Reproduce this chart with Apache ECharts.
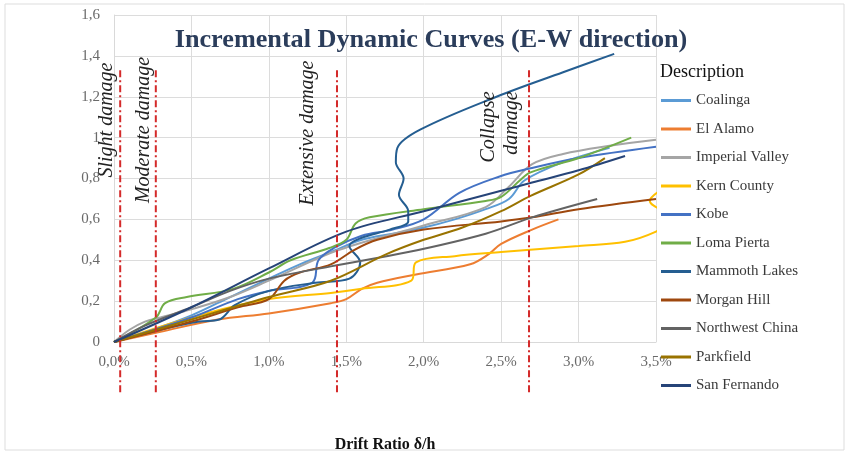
<!DOCTYPE html>
<html>
<head>
<meta charset="utf-8">
<script src="https://cdn.jsdelivr.net/npm/echarts@6/dist/echarts.min.js"></script>
<style>
html,body{margin:0;padding:0;background:#fff;}
#main{width:847px;height:466px;}
</style>
</head>
<body>
<div id="main"></div>
<script>
// Drift ratio (%) vs intensity, one array of [x, y] pairs per record
const seriesNames = ['Coalinga','El Alamo','Imperial Valley','Kern County','Kobe','Loma Pierta','Mammoth Lakes','Morgan Hill','Northwest China','Parkfield','San Fernando'];
const seriesColors = ['#5B9BD5','#ED7D31','#A5A5A5','#FFC000','#4472C4','#70AD47','#255E91','#9E480E','#636363','#997300','#264478'];

const coalinga = [[0,0],[0.25,0.06],[0.5,0.13],[0.75,0.22],[1.0,0.31],[1.2,0.38],[1.4,0.44],[1.6,0.50],[1.8,0.53],[2.0,0.56],[2.2,0.60],[2.4,0.65],[2.55,0.70],[2.65,0.79],[2.9,0.88],[3.2,0.95]];
const elAlamo = [[0,0],[0.3,0.05],[0.67,0.11],[1.0,0.14],[1.4,0.19],[1.5,0.21],[1.6,0.26],[1.7,0.29],[1.95,0.33],[2.3,0.38],[2.42,0.43],[2.5,0.48],[2.7,0.55],[2.87,0.60]];
const imperialValley = [[0,0],[0.1,0.06],[0.2,0.10],[0.3,0.12],[0.5,0.16],[0.75,0.22],[1.0,0.30],[1.45,0.45],[2.0,0.57],[2.4,0.66],[2.55,0.76],[2.7,0.87],[2.9,0.92],[3.2,0.96],[3.5,0.99]];
const kernCounty = [[0,0],[0.5,0.12],[1.0,0.21],[1.4,0.24],[1.6,0.26],[1.92,0.30],[1.95,0.39],[2.2,0.42],[2.5,0.44],[3.0,0.47],[3.3,0.49],[3.5,0.54],[3.62,0.60],[3.46,0.69],[3.62,0.78]];
const kobe = [[0,0],[0.5,0.12],[0.8,0.21],[1.0,0.25],[1.28,0.29],[1.32,0.40],[1.42,0.46],[1.6,0.52],[1.8,0.55],[2.0,0.60],[2.23,0.73],[2.49,0.81],[2.69,0.85],[3.0,0.90],[3.5,0.955]];
const lomaPierta = [[0,0],[0.27,0.12],[0.33,0.19],[0.47,0.22],[0.77,0.26],[1.0,0.34],[1.14,0.40],[1.39,0.46],[1.5,0.50],[1.56,0.58],[1.65,0.61],[2.0,0.65],[2.4,0.69],[2.5,0.71],[2.62,0.79],[2.69,0.83],[3.0,0.90],[3.34,1.0]];
const mammothLakes = [[0,0],[0.3,0.06],[0.55,0.10],[0.68,0.11],[0.78,0.18],[1.0,0.25],[1.3,0.29],[1.52,0.31],[1.59,0.39],[1.52,0.47],[1.6,0.51],[1.78,0.55],[1.9,0.59],[1.9,0.64],[1.84,0.72],[1.87,0.80],[1.82,0.88],[1.83,0.95],[1.98,1.04],[2.47,1.20],[2.9,1.32],[3.23,1.41]];
const morganHill = [[0,0],[0.5,0.10],[0.8,0.17],[1.0,0.21],[1.1,0.30],[1.2,0.34],[1.4,0.38],[1.55,0.45],[1.7,0.50],[2.0,0.55],[2.5,0.59],[2.7,0.61],[3.0,0.65],[3.5,0.70]];
const northwestChina = [[0,0],[0.2,0.08],[0.5,0.17],[0.75,0.25],[1.0,0.31],[1.4,0.37],[1.9,0.44],[2.4,0.53],[2.7,0.61],[3.12,0.70]];
const parkfield = [[0,0],[0.5,0.11],[1.0,0.22],[1.4,0.30],[1.76,0.43],[2.0,0.50],[2.25,0.56],[2.5,0.64],[2.69,0.715],[3.0,0.82],[3.17,0.90]];
const sanFernando = [[0,0],[0.5,0.17],[1.0,0.36],[1.5,0.54],[2.0,0.64],[2.5,0.74],[2.7,0.78],[3.0,0.84],[3.3,0.91]];

const seriesData = [coalinga, elAlamo, imperialValley, kernCounty, kobe, lomaPierta, mammothLakes, morganHill, northwestChina, parkfield, sanFernando];

// Damage-state limits (drift %, line top / bottom in axis units)
const damageX = [0.04, 0.27, 1.44, 2.68];
const damageTop = 1.33;
const damageBottom = -0.26;

const serif = "'Liberation Serif', 'Times New Roman', serif";

const chart = echarts.init(document.getElementById('main'), null, {renderer: 'canvas'});

const lineSeries = seriesNames.map((n, i) => ({
  name: n,
  type: 'line',
  data: seriesData[i],
  smooth: 0.35,
  showSymbol: false,
  symbol: 'none',
  lineStyle: {width: 2, color: seriesColors[i]},
  itemStyle: {color: seriesColors[i]},
  z: 3 + i,
  animation: false
}));

const damageSeries = {
  type: 'custom',
  name: 'damage',
  data: damageX.map(x => [x, damageTop, damageBottom]),
  encode: {x: 0, y: [1, 2]},
  clip: false,
  silent: true,
  z: 20,
  renderItem: function (params, api) {
    const p1 = api.coord([api.value(0), api.value(1)]);
    const p2 = api.coord([api.value(0), api.value(2)]);
    return {
      type: 'line',
      shape: {x1: p1[0], y1: p1[1], x2: p2[0], y2: p2[1]},
      style: {stroke: '#d42a2a', lineWidth: 2, lineDash: [7, 3, 2, 3]}
    };
  },
  animation: false
};

const option = {
  backgroundColor: '#ffffff',
  animation: false,
  title: {
    text: 'Incremental Dynamic Curves (E-W direction)',
    left: 426,
    top: 22,
    textAlign: 'center',
    textStyle: {fontFamily: serif, fontWeight: 'bold', fontSize: 26.2, color: '#2b3d5b'}
  },
  grid: {left: 114, right: 191, top: 15, bottom: 124, containLabel: false},
  xAxis: {
    type: 'value',
    min: 0, max: 3.5, interval: 0.5,
    name: 'Drift Ratio δ/h',
    nameLocation: 'middle',
    nameGap: 95,
    nameTextStyle: {fontFamily: serif, fontWeight: 'bold', fontSize: 16, color: '#111'},
    axisLine: {show: true, lineStyle: {color: '#d9d9d9', width: 1}},
    axisTick: {show: false},
    axisLabel: {
      fontFamily: serif, fontSize: 15, color: '#6a6a6a', margin: 13,
      formatter: v => v.toFixed(1).replace('.', ',') + '%'
    },
    splitLine: {show: true, lineStyle: {color: '#dcdcdc', width: 1}}
  },
  yAxis: {
    type: 'value',
    min: 0, max: 1.6, interval: 0.2,
    axisLine: {show: true, lineStyle: {color: '#d9d9d9', width: 1}},
    axisTick: {show: false},
    axisLabel: {
      fontFamily: serif, fontSize: 15, color: '#6a6a6a', margin: 14,
      formatter: v => String(Math.round(v * 10) / 10).replace('.', ',')
    },
    splitLine: {show: true, lineStyle: {color: '#dcdcdc', width: 1}}
  },
  legend: {
    data: seriesNames,
    orient: 'vertical',
    left: 661,
    top: 93,
    padding: 0,
    icon: 'rect',
    itemWidth: 30,
    itemHeight: 3,
    itemGap: 13.5,
    textStyle: {fontFamily: serif, fontSize: 15, color: '#3a3a3a', lineHeight: 15}
  },
  graphic: [
    {type: 'rect', shape: {x: 5, y: 4, width: 839, height: 446}, style: {fill: 'none', stroke: '#dddddd', lineWidth: 1}, silent: true, z: -1},
    {type: 'text', x: 660, y: 72, style: {text: 'Description', font: "18px " + serif, fill: '#111', align: 'left', verticalAlign: 'middle'}},
    {type: 'text', x: 107, y: 120, rotation: Math.PI / 2, z: 30, style: {text: 'Slight damage', font: "italic 20px " + serif, fill: '#222', align: 'center', verticalAlign: 'middle'}},
    {type: 'text', x: 144, y: 130, rotation: Math.PI / 2, z: 30, style: {text: 'Moderate damage', font: "italic 20px " + serif, fill: '#222', align: 'center', verticalAlign: 'middle'}},
    {type: 'text', x: 308, y: 133, rotation: Math.PI / 2, z: 30, style: {text: 'Extensive damage', font: "italic 20px " + serif, fill: '#222', align: 'center', verticalAlign: 'middle'}},
    {type: 'text', x: 489, y: 127, rotation: Math.PI / 2, z: 30, style: {text: 'Collapse', font: "italic 20px " + serif, fill: '#222', align: 'center', verticalAlign: 'middle'}},
    {type: 'text', x: 512, y: 123, rotation: Math.PI / 2, z: 30, style: {text: 'damage', font: "italic 20px " + serif, fill: '#222', align: 'center', verticalAlign: 'middle'}}
  ],
  series: lineSeries.concat([damageSeries])
};

chart.setOption(option);
</script>
</body>
</html>
